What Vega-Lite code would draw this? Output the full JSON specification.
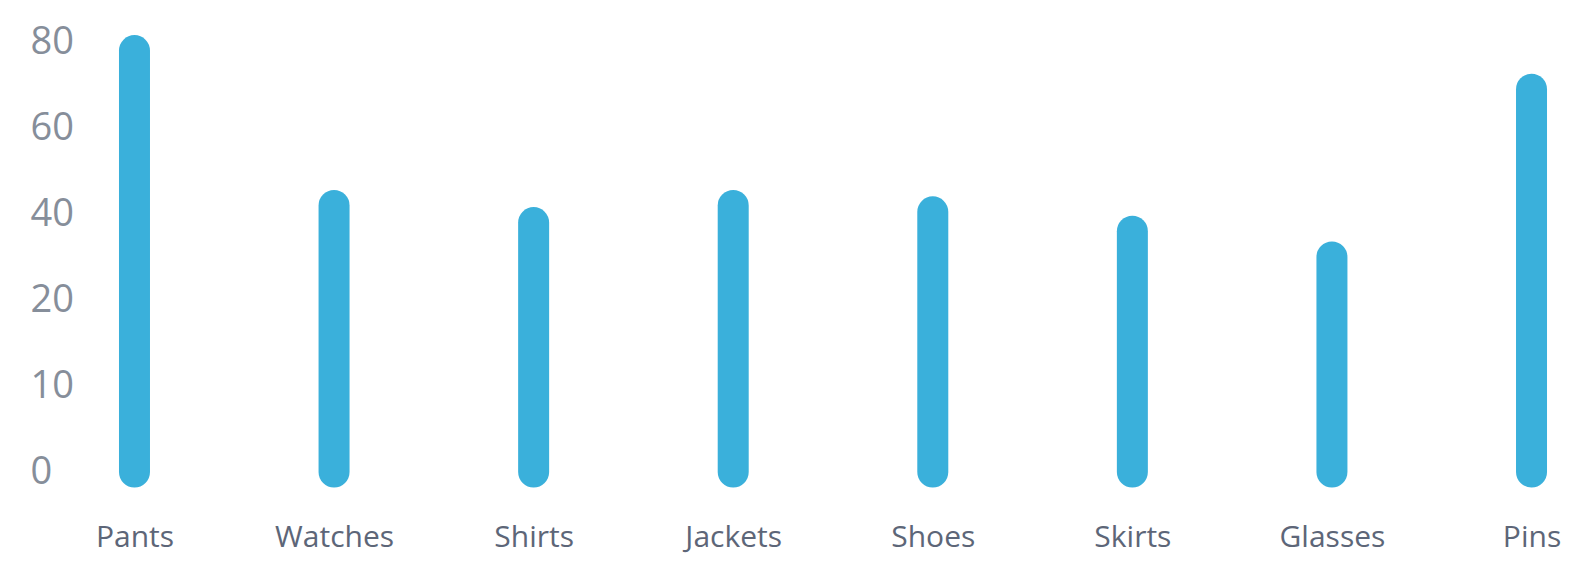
{
  "$schema": "https://vega.github.io/schema/vega-lite/v6.json",
  "autosize": {"type": "none"},
  "padding": {"left": 80, "top": 42, "right": 0, "bottom": 98},
  "width": 1506,
  "height": 430,
  "background": "white",
  "config": {"view": {"stroke": null}, "font": "Open Sans"},
  "data": {
    "values": [
      {"category": "Pants", "value": 78},
      {"category": "Watches", "value": 42},
      {"category": "Shirts", "value": 38},
      {"category": "Jackets", "value": 42},
      {"category": "Shoes", "value": 40.5},
      {"category": "Skirts", "value": 36},
      {"category": "Glasses", "value": 30},
      {"category": "Pins", "value": 69}
    ]
  },
  "mark": {"type": "rule", "strokeWidth": 31, "strokeCap": "round", "color": "#3AB0DB"},
  "encoding": {
    "x": {
      "field": "category",
      "type": "nominal",
      "sort": null,
      "scale": {"type": "point", "padding": 0.273},
      "axis": {
        "title": null,
        "domain": false,
        "ticks": false,
        "grid": false,
        "labelAngle": 0,
        "labelFont": "Open Sans",
        "labelFontSize": 30,
        "labelColor": "#5d6678",
        "labelPadding": 50
      }
    },
    "y": {
      "field": "value",
      "type": "quantitative",
      "scale": {"domain": [0, 10, 20, 40, 60, 80], "range": [430, 344, 258, 172, 86, 0], "nice": false, "zero": false},
      "axis": {
        "title": null,
        "domain": false,
        "ticks": false,
        "grid": false,
        "values": [0, 10, 20, 40, 60, 80],
        "labelAlign": "left",
        "labelPadding": 50,
        "labelFont": "Open Sans",
        "labelFontSize": 38,
        "labelColor": "#868e9a"
      }
    },
    "y2": {"datum": 0}
  }
}
